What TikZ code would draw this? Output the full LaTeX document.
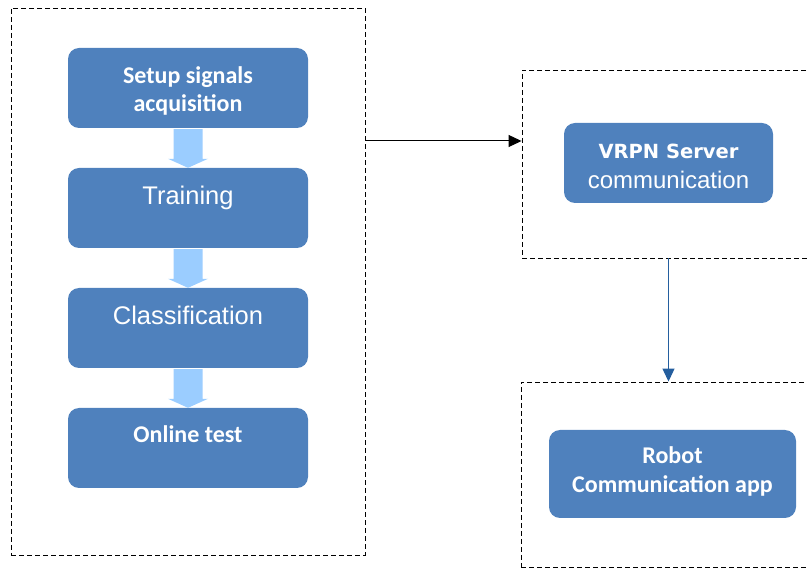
\documentclass[tikz,border=0pt]{standalone}
\usepackage{fontspec}
\setmainfont{Liberation Sans}
\newfontfamily\calibrifont{Carlito}
\newfontfamily\verdanafont{DejaVu Sans}
\usetikzlibrary{arrows.meta,calc}

\definecolor{boxblue}{RGB}{79,129,189}
\definecolor{flowblue}{RGB}{155,205,255}
\definecolor{linkblue}{RGB}{36,94,158}

\tikzset{
    stepbox/.style={fill=boxblue, rounded corners=11pt, text=white, align=center,
        inner sep=0pt, minimum width=240pt, minimum height=80pt},
    groupbox/.style={draw, dash pattern=on 5pt off 3pt, line width=0.9pt,
        inner sep=0pt},
    calibold/.style={font=\calibrifont\bfseries\fontsize{24}{29}\selectfont},
    arialtext/.style={font=\fontsize{25.5}{29}\selectfont},
    tiptri/.style={-{Triangle[length=13pt,width=12pt]}},
}

\begin{document}
\begin{tikzpicture}[x=1pt, y=-1pt]
    \useasboundingbox (0,0) rectangle (807,569);

    % dashed groups
    \node[groupbox, minimum width=354pt, minimum height=547pt] (leftbox) at (188,281.5) {};
    \node[groupbox, minimum width=328pt, minimum height=188pt] (serverbox) at (686,164) {};
    \node[groupbox, minimum width=329pt, minimum height=185pt] (robotbox) at (685.5,474.5) {};

    % offline / online chain
    \node[stepbox, calibold] (setup) at (188,88) {\rule{0pt}{22pt}Setup signals\\[-1pt]acquisition};
    \node[stepbox, arialtext] (training) at (188,208) {Training\\[-12pt]\strut};
    \node[stepbox, arialtext] (classif) at (188,328) {Classification\\[-12pt]\strut};
    \node[stepbox, calibold] (online) at (188,448) {Online test\\[-10pt]\strut};

    \foreach \a/\b in {setup/training, training/classif, classif/online}
        \fill[flowblue] ($(\a.south)+(-14.5,1)$) -- ($(\a.south)+(14.5,1)$)
            -- ($(\b.north)+(14.5,-9)$) -- ($(\b.north)+(20,-9)$)
            -- (\b.north) -- ($(\b.north)+(-20,-9)$)
            -- ($(\b.north)+(-14.5,-9)$) -- cycle;

    % communication side
    \node[stepbox, minimum width=209pt, font=\verdanafont\fontsize{19.5}{30}\selectfont]
        (vrpn) at (668.5,163) {\rule{0pt}{22pt}\bfseries VRPN Server\\{\fontsize{24}{30}\selectfont\rmfamily communication}};
    \node[stepbox, calibold, minimum width=247pt, minimum height=88pt] (robot) at (672.5,474)
        {Robot\\Communication app\rule[-9pt]{0pt}{9pt}};

    \coordinate (jump) at (365,141);
    \draw[tiptri, line width=1pt] (jump) -- (jump -| serverbox.west);
    \draw[tiptri, linkblue, line width=1.2pt] (serverbox.south -| vrpn) -- (robotbox.north -| vrpn);
\end{tikzpicture}
\end{document}
